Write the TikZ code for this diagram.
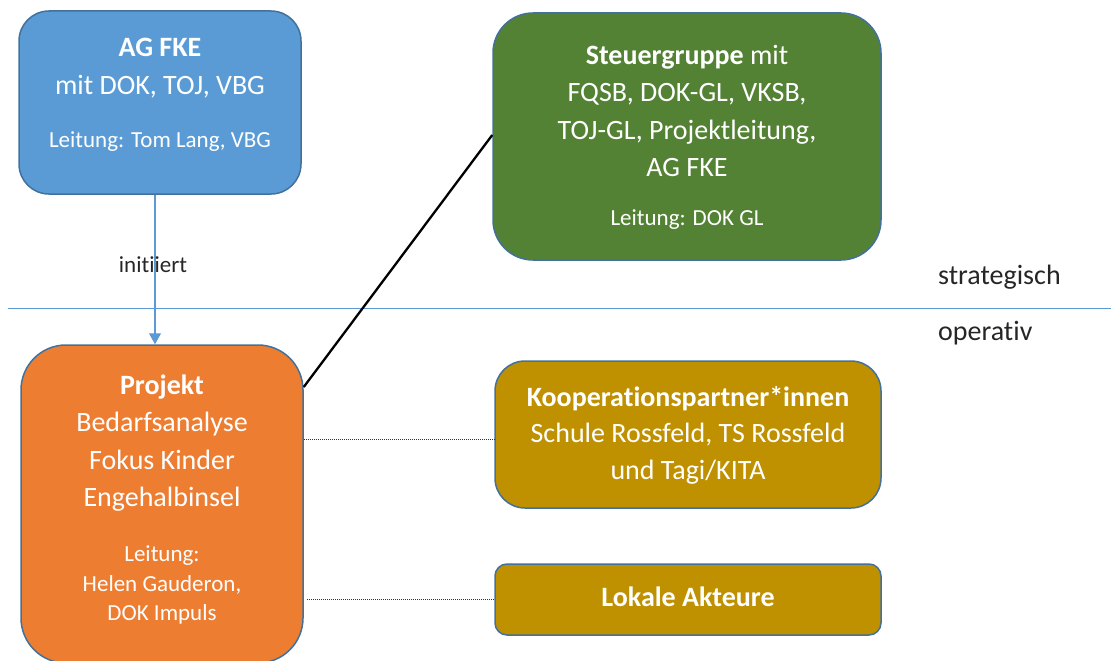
\documentclass[tikz,border=0pt]{standalone}
\usepackage{fontspec}
\setmainfont{Carlito}[Ligatures=NoCommon]
\usetikzlibrary{arrows.meta,calc}
\definecolor{cblue}{HTML}{5B9BD5}
\definecolor{cborder}{HTML}{41719C}
\definecolor{cgreen}{HTML}{548235}
\definecolor{corange}{HTML}{ED7D31}
\definecolor{cgold}{HTML}{BF9000}
\definecolor{ctext}{HTML}{262626}
\begin{document}
\begin{tikzpicture}[x=1pt,y=-1pt,
  box/.style={draw=cborder, line width=1.5pt, rounded corners=#1, inner sep=0pt},
  box/.default=30pt,
  big/.style={text=white, align=center, font=\fontsize{28}{37.5}\selectfont, inner sep=0pt},
  small/.style={text=white, align=center, font=\fontsize{23}{29.5}\selectfont, inner sep=0pt},
  lbl/.style={text=ctext, font=\fontsize{28}{30}\selectfont, inner sep=0pt},
  dotline/.style={draw=black!80, line width=0.9pt, dash pattern=on 1pt off 1pt}]
\useasboundingbox (0,0) rectangle (1111,661);
% boxes
\node[box=30pt, fill=cblue, minimum width=282pt, minimum height=183pt] (ag) at (160,102.5) {};
\node[box=40pt, fill=cgreen, minimum width=388pt, minimum height=247pt] (steuer) at (687,136.5) {};
\node[box=45pt, fill=corange, minimum width=282pt, minimum height=318pt] (proj) at (162,504) {};
\node[box=30pt, fill=cgold, minimum width=386pt, minimum height=147pt] (koop) at (688,434.5) {};
\node[box=12pt, fill=cgold, minimum width=386pt, minimum height=71pt] (lok) at (688,599.5) {};
% texts
\node[big] (agt) at (160,68) {\textbf{AG FKE}\\mit DOK, TOJ, VBG};
\node[small] (agl) at (160,142) {Leitung: Tom Lang, VBG};
\node[big] (stt) at (687,111) {\textbf{Steuergruppe} mit\\FQSB, DOK-GL, VKSB,\\TOJ-GL, Projektleitung,\\AG FKE};
\node[small] (stl) at (687,220) {Leitung: DOK GL};
\node[big] (prt) at (162,443) {\textbf{Projekt}\\Bedarfsanalyse\\Fokus Kinder\\Engehalbinsel};
\node[small] (prl) at (162,585) {Leitung:\\Helen Gauderon,\\DOK Impuls};
\node[big, font=\fontsize{28}{36.5}\selectfont] (kot) at (688,435) {\textbf{Kooperationspartner*innen}\\Schule Rossfeld, TS Rossfeld\\und Tagi/KITA};
\node[big, font=\fontsize{28}{36.5}\selectfont] (lot) at (688,597) {\textbf{Lokale Akteure}};
% divider
\coordinate (hl) at (8,308);
\coordinate (hr) at (1111,308);
\draw[cblue, line width=1pt] (hl) -- (hr);
\node[lbl, anchor=west] (strat) at (938,277) {strategisch};
\node[lbl, anchor=west] (oper) at (938,333) {operativ};
% connectors
\coordinate (ax) at (155,0);
\draw[cblue, line width=1.2pt, -{Triangle[length=11pt,width=12pt]}] (ag.south -| ax) -- (proj.north -| ax);
\node[lbl, font=\fontsize{23}{26}\selectfont] (init) at (153,265) {initiiert};
\coordinate (b1) at (0,387);
\coordinate (b2) at (0,135);
\draw[black, line width=2.3pt] (proj.east |- b1) -- (steuer.west |- b2);
\coordinate (d1) at (0,439);
\draw[dotline] (proj.east |- d1) -- (koop.west |- d1);
\draw[dotline] ($(proj.east |- lok.west)+(3,0)$) -- (lok.west);
\end{tikzpicture}
\end{document}
